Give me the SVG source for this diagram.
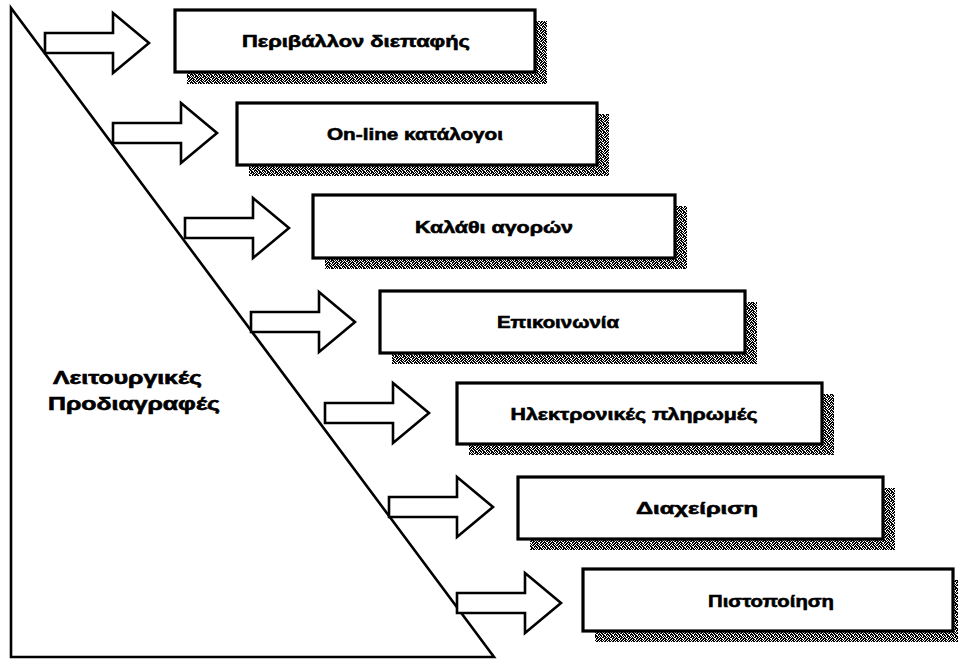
<svg xmlns="http://www.w3.org/2000/svg" width="958" height="661" viewBox="0 0 958 661">
  <defs>
    <!-- halftone stipple used for the drop shadows -->
    <pattern id="stipple" width="8" height="8" patternUnits="userSpaceOnUse">
      <path fill="#000" d="M0 0h2v1h-2z M3 0h1v1h-1z M5 0h2v1h-2z
        M1 1h2v1h-2z M4 1h2v1h-2z M7 1h1v1h-1z
        M0 2h1v1h-1z M2 2h2v1h-2z M6 2h2v1h-2z
        M0 3h2v1h-2z M3 3h2v1h-2z M6 3h1v1h-1z
        M1 4h1v1h-1z M3 4h3v1h-3z M7 4h1v1h-1z
        M0 5h1v1h-1z M2 5h2v1h-2z M5 5h2v1h-2z
        M0 6h2v1h-2z M4 6h2v1h-2z M7 6h1v1h-1z
        M1 7h2v1h-2z M4 7h1v1h-1z M6 7h2v1h-2z"/>
    </pattern>
    <!-- block arrow, shaft starts at 0, centred on y=0 -->
    <path id="blockArrow" d="M0 -10 H68 V-30 L104 0 L68 30 V10 H0 Z"/>
  </defs>
  <style>
    .shadow { fill: url(#stipple); stroke: none; }
    .box { fill: #fff; stroke: #000; stroke-width: 3.2; }
    .arrow { fill: #fff; stroke: #000; stroke-width: 2.6; stroke-linejoin: miter; }
    .frame { fill: none; stroke: #000; stroke-width: 2.6; stroke-linejoin: miter; }
    .label { font-family: "Liberation Sans", Arial, sans-serif; font-weight: bold; font-size: 17px; fill: #000; stroke: #000; stroke-width: 0.6; text-anchor: middle; }
    .side { font-family: "Liberation Sans", Arial, sans-serif; font-weight: bold; font-size: 18px; fill: #000; stroke: #000; stroke-width: 0.6; }
  </style>
  <rect width="958" height="661" fill="#fff"/>

  <!-- wedge with the side caption -->
  <g id="wedge">
    <path class="frame" d="M11 8 V657 H494 Z"/>
    <text class="side" x="53" y="384" textLength="149" lengthAdjust="spacingAndGlyphs">Λειτουργικές</text>
    <text class="side" x="48" y="410" textLength="172" lengthAdjust="spacingAndGlyphs">Προδιαγραφές</text>
  </g>

  <!-- arrows from the wedge to each box -->
  <g id="connectors">
    <use href="#blockArrow" class="arrow" transform="translate(45,43)"/>
    <use href="#blockArrow" class="arrow" transform="translate(113,133)"/>
    <use href="#blockArrow" class="arrow" transform="translate(185,228)"/>
    <use href="#blockArrow" class="arrow" transform="translate(251,322)"/>
    <use href="#blockArrow" class="arrow" transform="translate(325,413)"/>
    <use href="#blockArrow" class="arrow" transform="translate(389,507)"/>
    <use href="#blockArrow" class="arrow" transform="translate(457,603)"/>
  </g>

  <g id="node-interface">
    <rect class="shadow" x="187" y="21" width="360" height="63"/>
    <rect class="box" x="175" y="10" width="360" height="62"/>
    <text class="label" x="356" y="47" textLength="228" lengthAdjust="spacingAndGlyphs">Περιβάλλον διεπαφής</text>
  </g>

  <g id="node-catalogues">
    <rect class="shadow" x="249" y="114" width="360" height="62"/>
    <rect class="box" x="237" y="103" width="360" height="62"/>
    <text class="label" x="415" y="140" textLength="176" lengthAdjust="spacingAndGlyphs">On-line κατάλογοι</text>
  </g>

  <g id="node-basket">
    <rect class="shadow" x="325" y="206" width="362" height="63"/>
    <rect class="box" x="313" y="195" width="362" height="63"/>
    <text class="label" x="494" y="233" textLength="158" lengthAdjust="spacingAndGlyphs">Καλάθι αγορών</text>
  </g>

  <g id="node-communication">
    <rect class="shadow" x="392" y="302" width="365" height="62"/>
    <rect class="box" x="380" y="291" width="365" height="62"/>
    <text class="label" x="558" y="328" textLength="122" lengthAdjust="spacingAndGlyphs">Επικοινωνία</text>
  </g>

  <g id="node-payments">
    <rect class="shadow" x="469" y="394" width="365" height="61"/>
    <rect class="box" x="457" y="383" width="365" height="61"/>
    <text class="label" x="634" y="420" textLength="247" lengthAdjust="spacingAndGlyphs">Ηλεκτρονικές πληρωμές</text>
  </g>

  <g id="node-management">
    <rect class="shadow" x="530" y="488" width="365" height="62"/>
    <rect class="box" x="518" y="477" width="365" height="62"/>
    <text class="label" x="697" y="514" textLength="122" lengthAdjust="spacingAndGlyphs">Διαχείριση</text>
  </g>

  <g id="node-certification">
    <rect class="shadow" x="595" y="580" width="370" height="62"/>
    <rect class="box" x="583" y="569" width="370" height="62"/>
    <text class="label" x="771" y="607" textLength="126" lengthAdjust="spacingAndGlyphs">Πιστοποίηση</text>
  </g>
</svg>
